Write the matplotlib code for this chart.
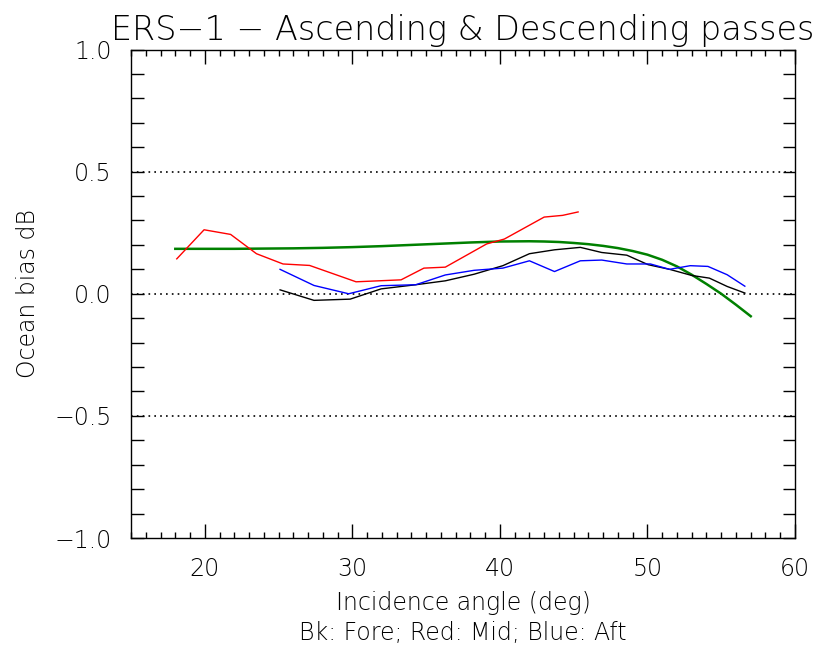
import matplotlib
matplotlib.use("Agg")
import matplotlib.pyplot as plt
from matplotlib.ticker import MultipleLocator

# Fore beam (black)
fore_x = [25.1, 27.4, 29.85, 31.95, 34.3, 36.3, 38.25, 40.2, 42.0, 43.7, 45.45,
          46.9, 48.6, 50.05, 51.5, 53.0, 54.2, 55.4, 56.6]
fore_y = [0.016, -0.027, -0.022, 0.02, 0.037, 0.053, 0.08, 0.115, 0.164, 0.18, 0.19,
          0.169, 0.158, 0.119, 0.10, 0.075, 0.064, 0.03, 0.003]

# Mid beam (red)
mid_x = [18.1, 19.95, 21.75, 23.5, 25.3, 27.1, 30.25, 33.3, 34.85, 36.3, 39.1,
         40.3, 43.0, 44.25, 45.3]
mid_y = [0.143, 0.262, 0.243, 0.164, 0.122, 0.116, 0.049, 0.057, 0.105, 0.109, 0.204,
         0.224, 0.314, 0.321, 0.335]

# Aft beam (blue)
aft_x = [25.1, 27.4, 29.75, 31.95, 34.3, 36.3, 38.25, 40.2, 42.0, 43.7, 45.45,
         46.9, 48.6, 50.2, 51.5, 52.9, 54.1, 55.4, 56.6]
aft_y = [0.10, 0.034, 0.0, 0.033, 0.037, 0.077, 0.096, 0.105, 0.135, 0.091, 0.135,
         0.138, 0.122, 0.122, 0.10, 0.115, 0.112, 0.078, 0.031]

# model curve (green)
model_x = [18, 20, 22, 24, 26, 28, 30, 32, 34, 36, 38, 40, 42, 43, 44, 45, 46, 47,
           48, 49, 50, 51, 52, 53, 54, 55, 56, 57]
model_y = [0.184, 0.184, 0.184, 0.185, 0.186, 0.188, 0.191, 0.195, 0.200, 0.205,
           0.210, 0.214, 0.215, 0.214, 0.212, 0.208, 0.203, 0.196, 0.187, 0.175,
           0.160, 0.139, 0.112, 0.078, 0.040, 0.000, -0.045, -0.092]

plt.rcParams['font.family'] = ['DejaVu Sans']
fw = 'light'

fig = plt.figure(figsize=(8.19, 6.5), dpi=100, facecolor='w')
ax = fig.add_axes([0.16, 0.1723, 0.8107, 0.7515])

for yv in (0.5, 0.0, -0.5):
    ax.axhline(yv, color='k', ls=(0, (1, 2.5)), lw=1.2)

ax.plot(model_x, model_y, color='#008000', lw=1.8)
ax.plot(fore_x, fore_y, color='k', lw=1)
ax.plot(mid_x, mid_y, color='#ff0000', lw=1)
ax.plot(aft_x, aft_y, color='#0000ff', lw=1)

ax.set_xlim(15, 60)
ax.set_ylim(-1, 1)
ax.xaxis.set_major_locator(MultipleLocator(10))
ax.xaxis.set_minor_locator(MultipleLocator(1))
ax.yaxis.set_major_locator(MultipleLocator(0.5))
ax.yaxis.set_minor_locator(MultipleLocator(0.1))
ax.tick_params(which='both', direction='in', top=True, right=True, width=1,
               labelsize=17, colors='k')
ax.tick_params(axis='x', which='major', length=10, pad=14)
ax.tick_params(axis='x', which='minor', length=4)
ax.tick_params(axis='y', which='both', length=9, pad=14)
ax.yaxis.set_major_formatter(plt.FuncFormatter(lambda v, p: ('%.1f' % v).replace('-', '\u2212')))
for lab in ax.get_xticklabels() + ax.get_yticklabels():
    lab.set_fontweight(fw)
for s in ax.spines.values():
    s.set_linewidth(1)

ax.set_title('ERS\u22121 \u2212 Ascending & Descending passes', fontsize=24,
             fontweight=fw, pad=7)
ax.set_xlabel('Incidence angle (deg)', fontsize=17, fontweight=fw, labelpad=7)
ax.set_ylabel('Ocean bias dB', fontsize=17, fontweight=fw, labelpad=10)
fig.text(0.565, 0.015, 'Bk: Fore; Red: Mid; Blue: Aft', ha='center', fontsize=17,
         fontweight=fw)

fig.savefig('out.png', dpi=100)
